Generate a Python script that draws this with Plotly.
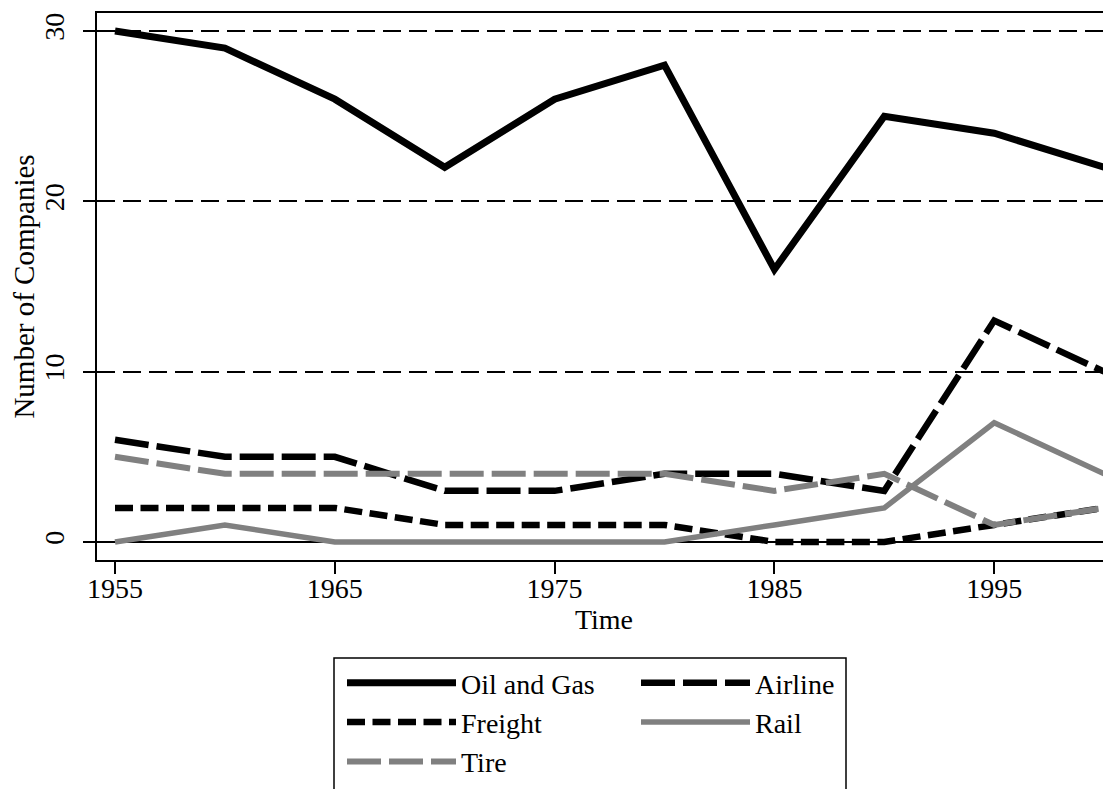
import plotly.graph_objects as go

years = [1955, 1960, 1965, 1970, 1975, 1980, 1985, 1990, 1995, 2000]
oil_gas = [30, 29, 26, 22, 26, 28, 16, 25, 24, 22]
airline = [6, 5, 5, 3, 3, 4, 4, 3, 13, 10]
freight = [2, 2, 2, 1, 1, 1, 0, 0, 1, 2]
rail = [0, 1, 0, 0, 0, 0, 1, 2, 7, 4]
tire = [5, 4, 4, 4, 4, 4, 3, 4, 1, 2]

x_ticks = [1955, 1965, 1975, 1985, 1995]
y_ticks = [0, 10, 20, 30]

BLACK = "#000000"
GRAY = "#808080"
FONT = "Liberation Serif"
FS = 28

series = [
    ("Oil and Gas", oil_gas, BLACK, "solid", 7, "legend"),
    ("Airline", airline, BLACK, "34px,8px", 6.5, "legend2"),
    ("Freight", freight, BLACK, "18px,7.5px", 6.5, "legend"),
    ("Rail", rail, GRAY, "solid", 5.5, "legend2"),
    ("Tire", tire, GRAY, "34px,8px", 6, "legend"),
]

fig = go.Figure()
for name, vals, color, dash, w, lg in series:
    fig.add_trace(go.Scatter(
        x=years, y=vals, name=name, mode="lines",
        line=dict(color=color, dash=dash, width=w),
        legend=lg,
    ))

# page body has an 8px default margin: figure sits at (8, 8) in the window
OFF = 8
W, H = 1111 - OFF, 789 - OFF
PL, PR, PT, PB = 97, 1111, 13, 560  # plot area in window pixels
PW, PH = PR - PL, PB - PT

def px_x(px):
    return (px - PL) / PW

def px_y(py):
    return (PB - py) / PH

fig.update_layout(
    width=W, height=H, autosize=False,
    margin=dict(l=PL - OFF, r=1111 - PR, t=PT - OFF, b=789 - PB, pad=0, autoexpand=False),
    paper_bgcolor="white", plot_bgcolor="white",
    font=dict(family=FONT, size=FS, color=BLACK),
    showlegend=True,
    legend=dict(
        xref="paper", yref="paper", x=px_x(342), y=px_y(658),
        xanchor="left", yanchor="top", bgcolor="rgba(0,0,0,0)", borderwidth=0,
        itemwidth=109, font=dict(family=FONT, size=FS, color=BLACK),
        traceorder="normal",
    ),
    legend2=dict(
        xref="paper", yref="paper", x=px_x(636), y=px_y(658),
        xanchor="left", yanchor="top", bgcolor="rgba(0,0,0,0)", borderwidth=0,
        itemwidth=109, font=dict(family=FONT, size=FS, color=BLACK),
        traceorder="normal",
    ),
    xaxis=dict(
        range=[1954.181, 2000.314], tickmode="array", tickvals=x_ticks,
        ticktext=[str(v) for v in x_ticks], tickangle=0,
        ticks="outside", ticklen=12, tickwidth=2, tickcolor=BLACK,
        ticklabelstandoff=-10,
        showline=True, linewidth=2, linecolor=BLACK, mirror=True,
        showgrid=False, zeroline=False, automargin=False,
        title=dict(text="Time", font=dict(family=FONT, size=FS), standoff=0),
        tickfont=dict(family=FONT, size=FS),
    ),
    yaxis=dict(
        range=[-1.06, 31.06], tickmode="array", tickvals=y_ticks,
        ticktext=[str(v) for v in y_ticks], tickangle=-90,
        ticks="outside", ticklen=12, tickwidth=2, tickcolor=BLACK,
        ticklabelstandoff=8,
        showline=True, linewidth=2, linecolor=BLACK, mirror=False,
        showgrid=True, gridcolor=BLACK, gridwidth=1.5, griddash="18px,8px",
        zeroline=True, zerolinecolor=BLACK, zerolinewidth=2, automargin=False,
        title=dict(text="Number of Companies", font=dict(family=FONT, size=29), standoff=0),
        tickfont=dict(family=FONT, size=FS),
    ),
    shapes=[dict(
        type="rect", xref="paper", yref="paper",
        x0=px_x(334), x1=px_x(846), y0=px_y(658), y1=px_y(820),
        line=dict(color=BLACK, width=1.5), fillcolor="rgba(0,0,0,0)",
    )],
)

fig.write_html("out.html")
